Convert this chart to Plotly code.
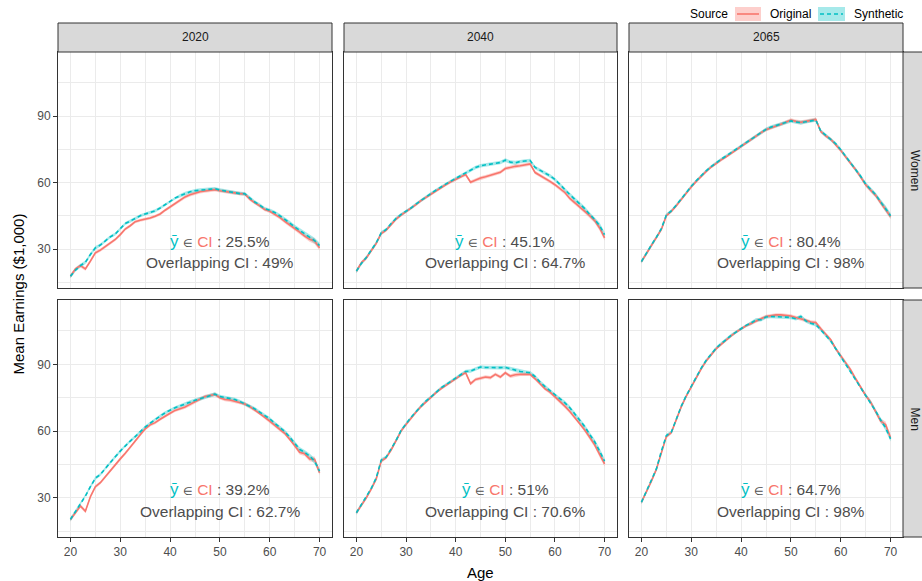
import plotly.graph_objects as go
from plotly.subplots import make_subplots

ages = list(range(20, 71))

women_2020_orig = [17.7, 21.0, 22.5, 21.0, 24.5, 28.3, 29.5, 31.0, 32.8, 34.3, 36.5, 39.0, 40.5, 42.3, 43.0, 43.4, 44.0, 44.8, 45.8, 47.5, 49.0, 50.5, 52.0, 53.5, 54.5, 55.2, 55.8, 56.2, 56.6, 56.8, 56.3, 55.9, 55.5, 55.3, 55.0, 54.8, 52.5, 50.8, 49.5, 47.8, 47.0, 45.6, 44.3, 42.5, 41.0, 39.2, 37.6, 35.8, 34.4, 33.6, 30.5]
women_2020_syn = [17.7, 20.5, 22.5, 24.0, 27.5, 30.5, 31.8, 33.8, 35.5, 36.8, 39.0, 41.5, 42.6, 43.8, 45.0, 45.8, 46.5, 47.2, 48.5, 50.0, 51.5, 53.0, 54.0, 55.0, 55.8, 56.3, 56.6, 56.9, 57.1, 57.2, 56.6, 56.2, 55.8, 55.3, 55.0, 54.9, 53.0, 51.2, 49.8, 48.2, 47.5, 46.5, 45.0, 43.5, 41.8, 40.0, 38.5, 37.0, 35.6, 33.8, 31.6]

women_2040_orig = [20.0, 23.8, 26.0, 29.0, 32.5, 37.0, 38.5, 41.0, 43.5, 45.3, 46.8, 48.3, 50.0, 51.8, 53.3, 54.8, 56.3, 57.7, 59.0, 60.3, 61.5, 62.5, 63.6, 60.1, 61.2, 62.0, 62.6, 63.3, 64.0, 64.6, 66.3, 66.9, 67.3, 67.6, 68.0, 68.4, 64.5, 63.2, 62.0, 60.5, 59.0, 57.3, 55.5, 52.8, 51.0, 49.0, 47.0, 45.0, 42.8, 39.5, 35.0]
women_2040_syn = [20.0, 23.5, 26.2, 29.3, 32.8, 37.3, 38.8, 41.5, 43.8, 45.6, 47.0, 48.5, 50.3, 52.0, 53.3, 55.0, 56.5, 58.0, 59.3, 60.6, 61.8, 63.0, 64.2, 65.5, 66.8, 67.6, 68.0, 68.4, 68.7, 69.0, 70.1, 69.2, 68.9, 69.5, 69.7, 69.9, 66.8, 65.5, 64.4, 63.0, 61.4, 59.0, 56.8, 54.5, 52.4, 50.5, 48.2, 45.6, 43.3, 40.5, 36.5]

women_2065_orig = [24.3, 28.0, 31.5, 35.0, 38.8, 45.0, 47.0, 49.5, 52.5, 55.5, 58.0, 60.5, 63.0, 65.0, 67.0, 68.7, 70.2, 71.6, 73.2, 74.8, 76.3, 77.8, 79.5, 81.0, 82.5, 83.8, 84.8, 85.5, 86.3, 87.2, 88.2, 87.6, 87.2, 87.6, 88.0, 88.5, 83.0, 81.0, 79.5, 77.2, 74.5, 71.5, 68.8, 65.8, 62.5, 59.0, 56.5, 54.2, 51.0, 48.0, 44.6]
women_2065_syn = [24.3, 28.3, 31.8, 35.3, 39.2, 45.3, 47.2, 49.8, 52.8, 55.8, 58.3, 60.8, 63.2, 65.3, 67.2, 69.0, 70.5, 72.0, 73.5, 75.0, 76.5, 78.0, 79.8, 81.3, 82.7, 84.0, 85.0, 85.7, 86.5, 87.3, 87.8, 87.3, 87.0, 87.4, 87.8, 88.2, 83.2, 81.3, 79.7, 77.5, 74.8, 71.8, 69.0, 66.0, 62.8, 59.3, 56.8, 54.5, 51.3, 48.3, 45.0]

men_2020_orig = [20.3, 23.5, 26.3, 24.0, 30.5, 35.0, 36.8, 39.5, 42.3, 45.0, 47.5, 50.0, 52.5, 55.5, 58.3, 61.0, 62.8, 63.8, 65.3, 66.5, 68.0, 69.3, 70.0, 70.8, 72.0, 73.2, 74.5, 75.5, 76.0, 76.5, 75.0, 74.2, 74.0, 73.5, 72.8, 72.2, 71.0, 69.5, 68.0, 66.2, 64.5, 62.5, 60.8, 59.0, 56.5, 53.5, 50.5, 49.8, 47.5, 47.3, 41.3]
men_2020_syn = [20.3, 23.8, 27.8, 30.8, 35.0, 38.8, 40.5, 43.3, 46.0, 48.5, 51.0, 53.5, 55.5, 57.5, 59.8, 61.8, 63.5, 65.3, 66.7, 68.2, 69.5, 70.5, 71.3, 72.0, 73.0, 73.8, 74.5, 75.3, 76.0, 76.6, 75.5, 75.0, 74.6, 74.2, 73.3, 72.3, 71.2, 70.0, 68.5, 67.0, 65.5, 63.5, 61.8, 59.8, 57.3, 54.5, 51.8, 50.5, 48.8, 46.5, 42.0]

men_2040_orig = [23.3, 26.5, 30.0, 34.0, 38.5, 46.5, 48.0, 51.5, 55.5, 60.0, 63.0, 66.0, 68.5, 71.0, 73.2, 75.0, 77.2, 79.0, 80.5, 82.0, 83.8, 85.0, 86.3, 81.3, 83.2, 83.7, 84.3, 84.0, 85.5, 84.3, 86.2, 84.7, 85.3, 85.5, 85.5, 85.5, 83.5, 81.0, 79.0, 77.5, 75.5, 73.5, 71.2, 68.8, 66.2, 63.5, 60.5, 57.2, 53.8, 49.5, 45.3]
men_2040_syn = [23.3, 26.8, 30.3, 34.3, 39.0, 47.0, 48.3, 51.8, 55.8, 60.3, 63.3, 66.2, 68.7, 71.2, 73.5, 75.3, 77.5, 79.3, 80.8, 82.3, 84.0, 85.5, 86.8, 87.0, 88.0, 88.8, 88.6, 88.5, 88.5, 88.5, 88.6, 88.0, 87.3, 86.8, 86.5, 86.2, 84.5, 82.0, 80.0, 78.2, 76.2, 74.5, 72.7, 70.5, 67.8, 65.0, 62.0, 58.5, 55.2, 51.0, 46.5]

men_2065_orig = [28.0, 32.5, 37.5, 42.8, 50.0, 57.5, 59.3, 65.0, 71.0, 75.7, 80.0, 84.0, 88.0, 91.5, 94.5, 97.0, 99.0, 101.0, 102.8, 104.5, 106.0, 107.3, 108.3, 109.5, 110.5, 111.5, 112.0, 112.2, 112.2, 112.0, 111.7, 111.0, 110.5, 109.8, 109.0, 108.8, 106.0, 103.5, 101.0, 97.0, 94.0, 91.0, 87.5, 83.5, 79.8, 76.0, 73.0, 69.0, 64.5, 63.0, 57.0]
men_2065_syn = [28.0, 32.8, 37.8, 43.0, 51.0, 58.0, 59.5, 65.3, 71.2, 76.0, 80.3, 84.3, 88.3, 91.8, 94.8, 97.3, 99.3, 101.2, 103.0, 104.5, 106.0, 107.5, 108.5, 110.0, 110.0, 111.3, 111.5, 111.5, 111.3, 111.2, 111.0, 110.5, 111.5, 109.5, 108.5, 107.8, 105.5, 103.0, 100.5, 97.0, 93.5, 90.5, 86.8, 83.3, 79.5, 76.0, 73.0, 69.0, 65.0, 61.5, 56.5]

# approximate half-width of the confidence bands, by age
ci_half = [0.9, 0.8, 0.8, 0.8, 0.8, 0.8, 0.7, 0.7, 0.7, 0.7, 0.7, 0.7, 0.7, 0.7, 0.7, 0.7, 0.7, 0.7, 0.7, 0.7, 0.7, 0.7, 0.8, 0.8, 0.8, 0.8, 0.8, 0.8, 0.8, 0.8, 0.8, 0.8, 0.9, 0.8, 0.8, 0.8, 0.8, 0.8, 0.8, 0.8, 0.8, 0.8, 0.9, 0.9, 0.9, 0.9, 1.0, 1.0, 1.1, 1.3, 1.2]

years = ["2020", "2040", "2065"]
sexes = ["Women", "Men"]
series = {
    ("Women", "2020"): (women_2020_orig, women_2020_syn),
    ("Women", "2040"): (women_2040_orig, women_2040_syn),
    ("Women", "2065"): (women_2065_orig, women_2065_syn),
    ("Men", "2020"): (men_2020_orig, men_2020_syn),
    ("Men", "2040"): (men_2040_orig, men_2040_syn),
    ("Men", "2065"): (men_2065_orig, men_2065_syn),
}
ybar_in_ci = {("Women", "2020"): "25.5", ("Women", "2040"): "45.1", ("Women", "2065"): "80.4",
              ("Men", "2020"): "39.2", ("Men", "2040"): "51", ("Men", "2065"): "64.7"}
overlap_ci = {("Women", "2020"): "49", ("Women", "2040"): "64.7", ("Women", "2065"): "98",
              ("Men", "2020"): "62.7", ("Men", "2040"): "70.6", ("Men", "2065"): "98"}

RED = "#F8766D"
CYAN = "#00BFC4"
RED_FILL = "rgba(248,118,109,0.35)"
CYAN_FILL = "rgba(0,191,196,0.35)"
FONT = "Liberation Sans, Arial, sans-serif"
W, H = 922, 581

col_px = [(58, 332), (344, 617), (629, 903)]
row_px = [(52, 288), (300, 537)]

fig = make_subplots(rows=2, cols=3)

for ri, sex in enumerate(sexes):
    for ci, yr in enumerate(years):
        orig, syn = series[(sex, yr)]
        for vals, fill in [(orig, RED_FILL), (syn, CYAN_FILL)]:
            upper = [v + h for v, h in zip(vals, ci_half)]
            lower = [v - h for v, h in zip(vals, ci_half)]
            fig.add_trace(go.Scatter(x=ages, y=upper, mode="lines", line=dict(width=0),
                                     showlegend=False, hoverinfo="skip"), row=ri + 1, col=ci + 1)
            fig.add_trace(go.Scatter(x=ages, y=lower, mode="lines", line=dict(width=0),
                                     fill="tonexty", fillcolor=fill,
                                     showlegend=False, hoverinfo="skip"), row=ri + 1, col=ci + 1)
        for vals, col, dash, name in [(orig, RED, "solid", "Original"),
                                      (syn, CYAN, "4px,3px", "Synthetic")]:
            fig.add_trace(go.Scatter(x=ages, y=vals, mode="lines", name=name,
                                     line=dict(color=col, width=1.6, dash=dash),
                                     showlegend=False), row=ri + 1, col=ci + 1)
        key = (sex, yr)
        t1 = (f"<span style='color:{CYAN};font-size:17px'>ȳ</span> <span style='font-size:11px'>∈</span> "
              f"<span style='color:{RED}'>CI</span> : {ybar_in_ci[key]}%")
        t2 = f"Overlapping CI : {overlap_ci[key]}%"
        n = ri * 3 + ci + 1
        xref = "x" if n == 1 else f"x{n}"
        yref = "y" if n == 1 else f"y{n}"
        fig.add_annotation(x=50, y=33.6, xref=xref, yref=yref, text=t1, showarrow=False,
                           font=dict(size=15.5, color="#4D4D4D", family=FONT))
        fig.add_annotation(x=50, y=23.7, xref=xref, yref=yref, text=t2, showarrow=False,
                           font=dict(size=15.5, color="#4D4D4D", family=FONT))

for ri in range(2):
    for ci in range(3):
        n = ri * 3 + ci + 1
        x0, x1 = col_px[ci]
        y0, y1 = row_px[ri]
        xd = [x0 / W, x1 / W]
        yd = [1 - y1 / H, 1 - y0 / H]
        xk = "xaxis" if n == 1 else f"xaxis{n}"
        yk = "yaxis" if n == 1 else f"yaxis{n}"
        show_x = ri == 1
        show_y = ci == 0
        fig.layout[xk].update(
            domain=xd, range=[17.5, 72.5], tick0=0, dtick=10,
            showgrid=True, gridcolor="#EBEBEB", gridwidth=1.4,
            minor=dict(showgrid=True, gridcolor="#EBEBEB", gridwidth=0.7, dtick=5, tick0=0),
            showline=True, mirror=True, linecolor="#333333", linewidth=1,
            ticks="outside" if show_x else "", ticklen=4, tickcolor="#333333", tickwidth=1,
            showticklabels=show_x, tickfont=dict(size=12, color="#4D4D4D", family=FONT),
            zeroline=False)
        fig.layout[yk].update(
            domain=yd, range=[12.4, 118.9], tick0=0, dtick=30,
            showgrid=True, gridcolor="#EBEBEB", gridwidth=1.4,
            minor=dict(showgrid=True, gridcolor="#EBEBEB", gridwidth=0.7, dtick=15, tick0=0),
            showline=True, mirror=True, linecolor="#333333", linewidth=1,
            ticks="outside" if show_y else "", ticklen=4, tickcolor="#333333", tickwidth=1,
            showticklabels=show_y, tickfont=dict(size=12, color="#4D4D4D", family=FONT),
            zeroline=False)

shapes = []
annotations = list(fig.layout.annotations)
# top strips
for ci, yr in enumerate(years):
    x0, x1 = col_px[ci]
    shapes.append(dict(type="rect", xref="paper", yref="paper", x0=x0 / W, x1=x1 / W,
                       y0=1 - 52 / H, y1=1 - 23 / H, fillcolor="#D9D9D9",
                       line=dict(color="#333333", width=1), layer="above"))
    annotations.append(dict(xref="paper", yref="paper", x=(x0 + x1) / 2 / W, y=1 - 37.5 / H,
                            text=yr, showarrow=False, xanchor="center", yanchor="middle",
                            font=dict(size=12, color="#1A1A1A", family=FONT)))
# right strips
for ri, sex in enumerate(sexes):
    y0, y1 = row_px[ri]
    shapes.append(dict(type="rect", xref="paper", yref="paper", x0=903 / W, x1=932 / W,
                       y0=1 - y1 / H, y1=1 - y0 / H, fillcolor="#D9D9D9",
                       line=dict(color="#333333", width=1), layer="above"))
    annotations.append(dict(xref="paper", yref="paper", x=915 / W, y=1 - (y0 + y1) / 2 / H,
                            text=sex, showarrow=False, textangle=90, xanchor="center",
                            yanchor="middle", font=dict(size=12, color="#1A1A1A", family=FONT)))

# legend (drawn manually to mimic the ggplot key)
for (kx0, kx1), col, fill, dash in [((735, 761), RED, RED_FILL, "solid"),
                                     ((818, 845), CYAN, CYAN_FILL, "4px,3px")]:
    shapes.append(dict(type="rect", xref="paper", yref="paper", x0=kx0 / W, x1=kx1 / W,
                       y0=1 - 21 / H, y1=1 - 7 / H, fillcolor=fill, line=dict(width=0)))
    shapes.append(dict(type="line", xref="paper", yref="paper", x0=(kx0 + 2) / W, x1=(kx1 - 2) / W,
                       y0=1 - 14 / H, y1=1 - 14 / H, line=dict(color=col, width=1.6, dash=dash)))
for tx, txt in [(688, "Source"), (768, "Original"), (852, "Synthetic")]:
    annotations.append(dict(xref="paper", yref="paper", x=tx / W, y=1 - 14 / H, text=txt,
                            showarrow=False, xanchor="left", yanchor="middle",
                            font=dict(size=12, color="#000000", family=FONT)))

# axis titles
annotations.append(dict(xref="paper", yref="paper", x=480.5 / W, y=1 - 572 / H, text="Age",
                        showarrow=False, xanchor="center", yanchor="middle",
                        font=dict(size=15, color="#000000", family=FONT)))
annotations.append(dict(xref="paper", yref="paper", x=18 / W, y=1 - 294.5 / H,
                        text="Mean Earnings ($1,000)", textangle=-90, showarrow=False,
                        xanchor="center", yanchor="middle",
                        font=dict(size=15, color="#000000", family=FONT)))

fig.update_layout(width=W, height=H, margin=dict(l=0, r=0, t=0, b=0),
                  paper_bgcolor="white", plot_bgcolor="white", showlegend=False,
                  shapes=shapes, annotations=annotations,
                  font=dict(family=FONT))

fig.write_html("out.html", config={"displayModeBar": False},
               post_script="document.body.style.margin='0';document.body.style.overflow='hidden';")
